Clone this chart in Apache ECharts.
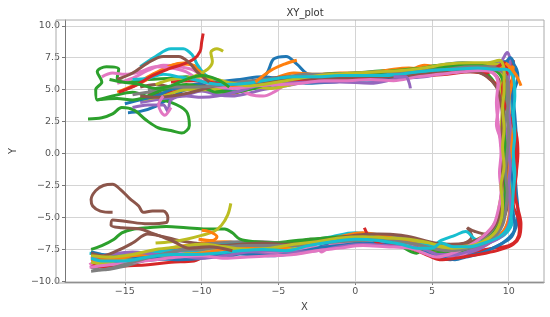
<!DOCTYPE html>
<html>
<head>
<meta charset="utf-8">
<script src="https://cdn.jsdelivr.net/npm/echarts@6/dist/echarts.min.js"></script>
<style>
html, body { margin: 0; padding: 0; background: #fff; }
#main { width: 550px; height: 317px; }
</style>
</head>
<body>
<div id="main"></div>
<script>
// tab10 colour cycle
var palette = ['#1f77b4', '#ff7f0e', '#2ca02c', '#d62728', '#9467bd', '#8c564b', '#e377c2', '#7f7f7f', '#bcbd22', '#17becf'];

var xTicks = [-15, -10, -5, 0, 5, 10];
var yTicks = [-10, -7.5, -5, -2.5, 0, 2.5, 5, 7.5, 10];

// runs
var run00 = [[-14.8,3.2],[-14,3.3],[-13,3.7],[-12,4.4],[-11,5.0],[-10,5.2],[-8.5,5.0],[-7,5.3],[-5.8,6.2],[-5.3,7.4],[-4.5,7.6],[-3.8,7.0],[-3,6.2],[-1.5,6.1],[0,6.0],[2,6.2],[4,6.4],[5.5,6.9],[7,7.1],[8.5,7.0],[9.6,7.2],[10.3,7.0],[10.6,6.0],[10.3,4.5],[10.4,3],[10.5,1],[10.4,-1],[10.5,-3],[10.6,-4.5],[10.4,-6],[9.6,-7],[8.5,-7.6],[7,-8.0],[6.2,-8.3],[5,-7.9],[4,-7.5],[2.5,-7.2],[1,-7.1],[-1,-7.0],[-3,-7.5],[-5,-7.8],[-7,-7.7],[-8.5,-8.1],[-10,-8.0],[-12,-8.2],[-14,-8.4],[-16,-8.5],[-17.2,-8.3]];
var run01 = [[-15.5,4.8],[-14.5,5.3],[-13.5,6.0],[-12.5,6.6],[-11.5,7.0],[-10.5,6.9],[-10,6.3],[-9.7,5.6],[-9,5.0],[-8,4.7],[-7,5.1],[-6,5.5],[-5,6.0],[-4,6.3],[-2.5,6.2],[-1,6.3],[0.5,6.3],[2,6.4],[3.5,6.5],[4.5,6.9],[5.5,6.8],[7,6.9],[8.5,6.8],[9.3,6.5],[9.8,6.0],[10.1,5],[10,3.5],[10.1,2],[9.8,0.5],[9.8,-1],[9.9,-2.5],[9.7,-4],[9.6,-5],[9.3,-6],[8.5,-6.6],[7.5,-7.2],[6.5,-7.5],[5.5,-7.4],[4.5,-7.0],[3,-6.6],[1.5,-6.4],[0,-6.3],[-1.5,-6.6],[-3,-7.0],[-5,-7.2],[-7,-7.1],[-8.5,-6.9],[-10,-7.0],[-12,-7.4],[-14,-7.8],[-16,-8.0],[-17.2,-7.9]];
var run02 = [[-17.4,2.7],[-16.5,2.8],[-15.8,3.1],[-15.2,3.6],[-14.4,3.4],[-13.6,2.6],[-12.8,2.0],[-12,1.8],[-11.3,1.6],[-10.8,2.2],[-11,3.3],[-12,4.0],[-13.2,4.3],[-14.5,4.8],[-15.8,4.5],[-16.8,4.2],[-16.9,5.0],[-16.5,5.6],[-16.8,6.4],[-16.2,6.8],[-15.4,6.6],[-15.5,5.9],[-14.8,5.6],[-13.5,5.8],[-12,5.9],[-11,6.0],[-10,5.6],[-9,5.0],[-8,4.8],[-7,5.0],[-6,5.2],[-5,5.5],[-3.5,5.9],[-2,6.2],[0,6.3],[2,6.5],[4,6.6],[5.5,6.9],[7,6.9],[8.3,6.5],[9.1,5.5],[9.6,4],[9.7,2.5],[9.8,1],[9.7,-1],[9.8,-2.5],[9.6,-4],[9.5,-5],[9.1,-6],[8.2,-7],[7,-7.6],[6,-7.7],[4.5,-7.7],[3,-7.1],[1.5,-6.8],[0,-6.6],[-1.5,-6.6],[-3,-6.7],[-4.5,-6.9],[-6,-7.1],[-7.5,-7.3],[-9,-7.5],[-10.5,-7.6],[-12,-7.7],[-13.5,-7.9],[-15,-8.1],[-16.5,-8.0],[-17.2,-7.7]];
var run03 = [[-13.5,4.6],[-12,4.8],[-10.5,5.2],[-9,5.4],[-7.5,5.5],[-6,5.6],[-4.5,5.7],[-3,5.9],[-1.5,6.0],[0,6.1],[1.5,6.0],[3,6.1],[4.5,6.2],[5.5,6.3],[6.5,6.4],[7.5,6.5],[8.4,6.2],[8.9,5.7],[9.5,5.3],[10.1,5.5],[10.3,6.5],[10.3,7.3],[10.0,6.6],[9.8,5],[9.9,3.5],[10.2,2],[10.4,0.5],[10.5,-1],[10.4,-2.5],[10.3,-4],[10.6,-5],[10.7,-6],[10.5,-6.8],[10,-7.2],[9,-7.4],[8,-7.6],[7,-7.8],[6,-8.0],[5,-7.9],[4,-7.3],[3,-6.9],[1.5,-6.6],[0,-6.5],[-1.5,-6.7],[-3,-7.0],[-4.5,-7.5],[-6,-7.6],[-7.5,-7.4],[-9,-7.5],[-10.5,-8.4],[-12,-8.5],[-13.5,-8.7],[-15,-8.8],[-16.2,-8.9],[-17.2,-8.7]];
var run04 = [[-14,4.0],[-12.5,4.3],[-11,4.6],[-10,4.9],[-9,4.6],[-8,4.5],[-7,4.7],[-6,5.0],[-4.5,5.3],[-3,5.6],[-1.5,5.6],[0,5.8],[1.5,5.7],[3,5.9],[4.5,6.0],[6,6.4],[7.5,6.6],[8.8,6.7],[9.5,7.2],[9.9,7.9],[10.1,7.2],[10.0,6],[9.9,4.5],[10,3],[9.9,1.5],[10,0],[10.1,-1.5],[10,-3],[10.1,-4.5],[9.8,-5.8],[9.2,-6.6],[8.2,-7.4],[7,-7.9],[6,-8.1],[5,-8.0],[4,-7.5],[3,-7.2],[1.5,-7.1],[0,-7.0],[-1.5,-7.2],[-3,-7.5],[-4.5,-7.8],[-6,-7.9],[-7.5,-7.8],[-9,-7.9],[-10.5,-8.1],[-12,-8.2],[-13.5,-8.2],[-15,-8.3],[-16.5,-8.2],[-17.2,-8.0]];
var run05 = [[-14,5.2],[-13,5.4],[-12,5.2],[-11,5.0],[-10,5.3],[-8.5,5.4],[-7,5.4],[-5.5,5.9],[-4,6.0],[-2.5,6.1],[-1,6.0],[0.5,6.1],[2,6.3],[3.5,6.1],[5,6.4],[6.5,6.6],[8,6.7],[8.8,6.5],[9.3,5.9],[9.6,5],[9.7,3.5],[9.6,2],[9.7,0.5],[9.9,-1],[9.8,-2.5],[9.9,-4],[9.7,-5],[9.3,-5.8],[8.5,-6.3],[7.8,-6.1],[7.3,-5.8],[7.6,-6.5],[6.8,-7.2],[5.8,-7.5],[5,-7.3],[4,-7.0],[3,-6.8],[1.5,-6.6],[0,-6.5],[-1.5,-6.6],[-3,-6.8],[-4.5,-7.2],[-6,-7.3],[-7.5,-7.2],[-9,-7.3],[-10.5,-7.4],[-12,-7.6],[-13.5,-7.9],[-15,-8.0],[-16.5,-8.3],[-17.2,-8.1]];
var run06 = [[-15.5,5.5],[-14.5,5.9],[-13.5,6.5],[-12.5,6.9],[-11.5,6.8],[-10.5,6.5],[-9.5,5.6],[-8.5,5.3],[-7.5,5.0],[-6.8,4.6],[-6,4.5],[-5.3,4.8],[-4.5,5.4],[-3,5.7],[-1.5,5.8],[0,5.9],[1.5,5.9],[3,6.0],[4.5,6.1],[6,6.3],[7.5,6.5],[8.5,6.5],[9.2,6.0],[9.4,4.5],[9.3,3.3],[9.2,2.3],[9.5,1],[9.6,-0.5],[9.7,-2],[9.6,-3.5],[9.5,-5],[9.0,-6],[8.2,-6.8],[7.5,-7.5],[6.5,-8.2],[5.5,-8.2],[5,-8.0],[4,-7.4],[3,-7.0],[1.5,-6.9],[0,-6.9],[-1.5,-7.1],[-2.2,-7.7],[-2.5,-7.3],[-3.5,-7.4],[-5,-7.7],[-6.5,-7.6],[-8,-7.5],[-9.5,-7.6],[-11,-7.7],[-12.5,-7.8],[-14,-8.0],[-15.5,-8.2],[-17,-8.5],[-17.3,-8.7]];
var run07 = [[-14.5,4.6],[-13,4.9],[-11.5,5.1],[-10,5.0],[-8.5,5.2],[-7,5.4],[-5.5,5.6],[-4,5.8],[-2.5,6.0],[-1,6.0],[0.5,6.0],[2,6.1],[3.5,6.2],[5,6.4],[6.5,6.6],[8,6.6],[9,6.6],[9.8,6.3],[9.8,5.0],[9.9,3.5],[9.7,2],[9.8,0.5],[9.7,-1],[9.6,-2.5],[9.7,-4],[9.4,-5.3],[8.8,-6.3],[8,-6.8],[7,-7.2],[6,-7.4],[5,-7.2],[4,-6.9],[3,-6.5],[2,-6.4],[1,-6.3],[0,-6.4],[-1.5,-6.6],[-3,-6.9],[-4.5,-7.0],[-6,-6.9],[-7.5,-6.9],[-9,-7.0],[-10.5,-7.2],[-12,-7.8],[-13.5,-8.3],[-15,-8.8],[-16.5,-9.1],[-17.2,-8.9]];
var run08 = [[-14,4.2],[-12.5,4.5],[-11,5.0],[-9.5,5.0],[-8,5.2],[-6.5,5.2],[-5.5,5.1],[-4.5,5.3],[-3,5.7],[-1.5,5.8],[0,6.0],[1.5,6.1],[3,6.2],[4.5,6.4],[6,6.6],[7.5,6.8],[8.5,7.0],[9.3,7.0],[9.6,6.2],[9.5,5],[9.6,3.5],[9.5,2],[9.6,0.5],[9.5,-1],[9.6,-2.5],[9.4,-4],[9.2,-5.2],[8.6,-6.2],[7.8,-6.8],[6.8,-7.2],[5.8,-7.4],[5,-7.1],[4,-6.9],[3,-6.7],[1.5,-6.5],[0,-6.5],[-1.5,-6.8],[-3,-7.1],[-4.5,-7.4],[-6,-7.5],[-7.5,-7.5],[-9,-7.4],[-10.5,-7.7],[-12,-8.0],[-13.5,-8.0],[-15,-8.2],[-16.5,-8.6],[-17.2,-8.5]];
var run09 = [[-14,6.8],[-13,7.6],[-12,8.2],[-11.2,8.2],[-10.6,7.7],[-10.3,7.0],[-9.8,6.2],[-9,5.6],[-8,5.3],[-7,5.4],[-5.5,5.7],[-4,5.9],[-2.5,6.1],[-1,6.2],[0.5,6.2],[2,6.3],[3.5,6.3],[5,6.5],[6.5,6.7],[8,6.8],[9.2,6.7],[10,6.5],[10.3,5.5],[10.2,4],[10.3,2.5],[10.2,1],[10.3,-0.5],[10.2,-2],[10.2,-3.5],[10.3,-5],[10,-6],[9.4,-6.6],[8.5,-6.9],[7.8,-6.7],[7.2,-6.1],[6.5,-6.4],[5.6,-6.8],[5,-7.2],[4,-7.1],[3,-6.9],[1.5,-6.5],[0,-6.2],[-1.5,-6.5],[-3,-6.9],[-4.5,-7.3],[-6,-7.3],[-7.5,-7.1],[-9,-7.2],[-10.5,-7.6],[-12,-7.6],[-13.5,-7.8],[-15,-8.0],[-16.5,-7.9],[-17.3,-7.8]];
var run10 = [[-15,3.9],[-14,4.2],[-13,4.5],[-12,5.0],[-11,5.3],[-10,5.5],[-9,5.6],[-7.5,5.8],[-6,6.0],[-4.5,5.7],[-3,5.5],[-1.5,5.6],[0,5.7],[1.5,5.8],[3,5.9],[4.5,6.1],[5.5,6.6],[7,6.8],[8.5,6.8],[9.5,6.8],[10.1,7.5],[10.4,6.5],[10.2,5],[10.3,3.5],[10.1,2],[10.2,0.5],[10.1,-1],[10.3,-2.5],[10.2,-4],[10.4,-5.5],[10.2,-6.5],[9.3,-7.2],[8.2,-7.8],[7.2,-8.1],[6.5,-8.3],[5.5,-8.1],[4.5,-7.6],[3.5,-7.3],[2,-7.1],[0.5,-7.0],[-1,-7.2],[-2.5,-7.4],[-4,-7.8],[-5.5,-8.0],[-7,-7.9],[-8.5,-7.8],[-10,-8.2],[-11.5,-8.3],[-13,-8.2],[-14.5,-8.1],[-16,-8.0],[-17.2,-7.7]];
var run11 = [[-15,5.0],[-14,5.5],[-13,6.2],[-12,6.9],[-11,7.1],[-10.2,6.5],[-9.5,5.8],[-8.5,5.2],[-7.5,5.2],[-6.5,5.3],[-5,5.5],[-3.5,5.8],[-2,6.0],[-0.5,6.2],[1,6.3],[2.5,6.6],[3.5,6.7],[4.5,6.6],[6,6.7],[7.5,6.8],[9,6.8],[9.8,6.7],[10.3,6.8],[10.2,5.5],[10.0,4],[10.1,2.5],[10.2,1],[10.1,-0.5],[10.0,-2],[10.1,-3.5],[10.0,-5],[9.7,-6],[9,-6.8],[8,-7.3],[7,-7.6],[6,-7.6],[5,-7.5],[4,-7.1],[3,-6.8],[2,-6.5],[0.5,-6.2],[-1,-6.5],[-2.5,-6.8],[-4,-7.2],[-5.5,-7.5],[-7,-7.4],[-8.5,-7.5],[-10,-7.8],[-11.5,-7.9],[-13,-7.9],[-14.5,-8.0],[-16,-8.3],[-17.2,-8.3]];
var run12 = [[-16.8,4.2],[-15.5,4.3],[-14.5,4.2],[-13.5,4.5],[-12.5,5.0],[-11,5.4],[-10,5.2],[-9,4.8],[-8,4.8],[-7,5.0],[-5.5,5.5],[-4,5.8],[-2.5,6.0],[-1,6.1],[0.5,6.2],[2,6.4],[3.5,6.6],[5,6.7],[6.5,6.8],[8,6.9],[9,6.6],[9.6,5.8],[9.7,4.5],[9.6,3],[9.7,1.5],[9.8,0],[9.7,-1.5],[9.8,-3],[9.7,-4.5],[9.4,-5.5],[8.8,-6.5],[7.8,-7.2],[6.5,-7.7],[5.5,-7.6],[4.5,-7.4],[4,-7.8],[3.5,-7.6],[2.5,-6.9],[1,-6.6],[-0.5,-6.5],[-2,-6.6],[-3.5,-6.9],[-5,-7.0],[-6.5,-6.9],[-7.5,-6.7],[-8,-6.2],[-8.5,-5.9],[-9.7,-5.9],[-11,-5.8],[-12.3,-5.7],[-13.5,-5.8],[-14.4,-5.9],[-15.2,-6.2],[-15.7,-6.7],[-16.5,-7.2],[-17.2,-7.5]];
var run13 = [[-12,5.6],[-10.5,5.7],[-9,5.5],[-7.5,5.4],[-6,5.5],[-4.5,5.6],[-3,5.8],[-1.5,5.9],[0,5.9],[1.5,6.0],[3,6.0],[4.5,6.1],[6,6.2],[7.5,6.4],[8.5,6.3],[9.3,6.8],[9.7,7.1],[9.9,6.3],[9.6,5.2],[9.7,4],[10.1,2.8],[10.5,1.5],[10.6,0],[10.5,-1.5],[10.4,-3],[10.6,-4.3],[10.8,-5.5],[10.7,-6.5],[10.3,-7.1],[9.5,-7.5],[8.5,-7.8],[7.5,-8.0],[6.5,-8.2],[5.5,-8.3],[4.8,-8.0],[4,-7.6],[3,-7.2],[2,-7.2],[1,-6.6],[0.6,-5.8]];
var run14 = [[-14.5,3.6],[-13.5,3.8],[-12.5,3.8],[-12.2,3.3],[-12,4.2],[-11,4.5],[-10,4.4],[-9,4.5],[-7.5,4.9],[-6,5.4],[-4.5,5.5],[-3,5.6],[-1,5.6],[1,5.5],[2.5,5.8],[3.4,6.0],[4.5,6.1],[6,6.3],[7.5,6.5],[8.8,6.6],[9.6,6.4],[10.0,5.3],[10.0,3.5],[10.1,2],[10.0,0.5],[10.1,-1],[10.0,-2.5],[10.1,-4],[10.0,-5.5],[9.5,-6.5],[8.5,-7.1],[7.5,-7.6],[6.5,-7.9],[5.5,-7.9],[4.5,-7.5],[3.5,-7.3],[2,-7.2],[0.5,-7.1],[-1,-7.3],[-2.5,-7.6],[-4,-7.7],[-5.5,-7.6],[-7,-7.7],[-8.5,-8.0],[-10,-8.2],[-11.5,-8.0],[-13,-7.9],[-14.5,-7.7],[-16,-7.9],[-17.2,-8.2]];
var run15 = [[-14,4.5],[-13,4.4],[-12,4.5],[-11,4.7],[-10,5.0],[-8.5,5.5],[-7,5.6],[-5.5,5.7],[-4,5.9],[-2.5,5.9],[-1,5.9],[0.5,6.0],[2,6.0],[3.5,6.1],[5,6.3],[6.5,6.4],[7.8,6.4],[8.6,6.0],[9.2,5.2],[9.5,4],[9.6,2.5],[9.5,1],[9.6,-0.5],[9.6,-2],[9.5,-3.5],[9.4,-4.8],[9.0,-5.8],[8.2,-6.6],[7.2,-7.0],[6.2,-7.1],[5.2,-7.0],[4.2,-6.7],[3,-6.4],[1.5,-6.3],[0,-6.4],[-1.5,-6.7],[-3,-7.0],[-4.5,-7.1],[-6,-7.0],[-7.5,-7.1],[-9,-7.2],[-10.5,-7.0],[-11.5,-6.8],[-12.5,-6.5],[-13.5,-6.3],[-14.5,-7.0],[-15.5,-7.6],[-16.5,-8.0],[-17.2,-7.8]];
var run16 = [[-16.5,6.0],[-15.8,6.3],[-15,6.2],[-14,6.4],[-13,6.8],[-12,6.7],[-11,6.4],[-10.2,5.8],[-9.2,5.3],[-8,5.1],[-6.5,5.3],[-5,5.4],[-3.5,5.5],[-2,5.7],[-0.5,5.7],[1,5.8],[2.5,5.7],[4,6.0],[5.5,6.2],[7,6.4],[8.2,6.5],[9.0,6.3],[9.3,5.5],[9.2,4],[9.3,2.5],[9.4,1.5],[9.5,0],[9.4,-1.5],[9.5,-3],[9.3,-4.5],[9.0,-5.6],[8.3,-6.5],[7.3,-7.3],[6.3,-7.8],[5.3,-8.1],[4.5,-7.8],[3.5,-7.4],[2,-7.3],[0.5,-7.2],[-1,-7.4],[-2.5,-7.6],[-4,-7.9],[-5.5,-8.0],[-7,-8.1],[-8.5,-8.2],[-10,-8.0],[-11.5,-8.1],[-13,-8.3],[-14.5,-8.5],[-16,-8.7],[-17.3,-8.9]];
var run17 = [[-13.5,5.0],[-12,5.2],[-10.5,5.2],[-9,5.3],[-7.5,5.6],[-6,5.8],[-4.5,6.0],[-3,6.2],[-1.5,6.2],[0,6.3],[1.5,6.4],[3,6.4],[4.5,6.5],[6,6.6],[7.5,6.8],[8.7,6.8],[9.5,6.5],[9.9,5.8],[10.0,4.5],[9.9,3],[10,1.5],[9.9,0],[9.8,-1.5],[9.9,-3],[9.8,-4.5],[9.6,-5.6],[9,-6.6],[8,-7.2],[7,-7.5],[6,-7.6],[5,-7.4],[4,-7.1],[3,-6.9],[2,-6.7],[0.5,-6.8],[-1,-6.9],[-2.5,-7.0],[-4,-7.2],[-5.5,-7.2],[-7,-7.2],[-8.5,-7.3],[-10,-7.5],[-11.5,-7.6],[-13,-8.0],[-14.5,-8.5],[-16,-9.0],[-17.2,-9.2]];
var run18 = [[-13,5.4],[-12,5.8],[-11,5.9],[-10,6.0],[-9,5.8],[-8,5.5],[-7,5.3],[-6,5.4],[-4.5,5.7],[-3,6.0],[-1.5,6.2],[0,6.3],[1.5,6.4],[3,6.5],[4.5,6.7],[6,7.0],[7.5,7.1],[8.6,7.1],[9.4,7.3],[9.7,6.5],[9.7,5],[9.6,3.5],[9.7,2],[9.6,0.5],[9.7,-1],[9.5,-2.5],[9.6,-4],[9.5,-5.2],[9.1,-6.2],[8.3,-6.9],[7.3,-7.3],[6.3,-7.4],[5.5,-7.2],[4.5,-6.9],[3.5,-6.7],[2,-6.6],[0.5,-6.5],[-1,-6.6],[-2.5,-6.9],[-4,-7.1],[-5.5,-7.4],[-7,-7.5],[-8.5,-7.3],[-10,-7.1],[-11.5,-7.3],[-13,-7.5],[-14.5,-7.9],[-16,-8.1],[-17.2,-8.0]];
var run19 = [[-14.5,5.8],[-13.5,5.9],[-12.5,6.2],[-11.5,6.0],[-10.5,5.8],[-9.5,5.5],[-8.5,5.4],[-7,5.5],[-5.5,5.8],[-4,6.0],[-2.5,6.0],[-1,6.1],[0.5,6.1],[2,6.1],[3.5,6.3],[5,6.5],[6.5,6.6],[8,6.7],[9,6.6],[9.8,6.6],[10.3,6.0],[10.4,4.5],[10.3,3],[10.4,1.5],[10.3,0],[10.4,-1.5],[10.3,-3],[10.2,-4.5],[10.0,-5.7],[9.4,-6.5],[8.4,-7.0],[7.4,-7.3],[6.4,-7.3],[5.6,-7.0],[5,-7.4],[4,-7.4],[3,-7.1],[1.5,-6.8],[0,-6.7],[-1.5,-6.9],[-3,-7.2],[-4.5,-7.6],[-6,-7.5],[-7.5,-7.6],[-9,-7.8],[-10.5,-7.9],[-12,-7.9],[-13.5,-8.1],[-15,-8.4],[-16.5,-8.4],[-17.2,-8.2]];

// short pieces
var redSpike = [[-9.9,9.4],[-10,8.7],[-10.1,8.0],[-10.5,7.4],[-11.2,7.0],[-12.2,6.6],[-13.2,6.1],[-14.2,5.4],[-15.4,4.8]];
var oliveTop = [[-8.6,8.0],[-9.0,8.2],[-9.4,7.9],[-9.3,7.2],[-9.6,6.6],[-10.2,6.2],[-11,5.8]];
var oliveLow = [[-8.1,-3.9],[-8.3,-4.8],[-8.7,-5.6],[-9.2,-6.1],[-10,-6.4],[-11,-6.7],[-12,-6.9],[-13,-7.0]];
var orangeEnd = [[9.8,7.1],[10.2,6.6],[10.5,6.1],[10.7,5.6],[10.8,5.3]];
var orangeBlob = [[-10,-6.0],[-9.5,-6.1],[-9.0,-6.5],[-9.3,-6.8],[-10.2,-6.7]];
var orangeArc = [[-6.5,5.6],[-5.5,6.5],[-4.6,7.0],[-3.8,7.3]];
var purpleStub = [[2.5,6.0],[3.3,6.0],[3.5,5.6],[3.6,5.1]];
var brownLoop = [[-15.8,-4.6],[-16.6,-4.5],[-17.1,-4.1],[-17.2,-3.6],[-16.9,-2.9],[-16.4,-2.5],[-15.8,-2.4],[-15.3,-2.8],[-14.7,-3.5],[-14.1,-4.1],[-13.8,-4.6],[-13.2,-4.5],[-12.5,-4.5],[-12.2,-5.0],[-12.3,-5.4],[-13.5,-5.5],[-15.0,-5.3],[-15.8,-5.2],[-15.9,-5.6],[-15.2,-5.8],[-14.0,-5.9],[-13.3,-6.2],[-12.6,-6.5],[-11.8,-6.9],[-10.8,-7.4],[-9.5,-7.3],[-8,-7.6]];
var brownArc = [[-15.5,5.8],[-14.5,6.3],[-13.5,7.1],[-12.5,7.6],[-11.5,7.6],[-10.8,7.1],[-10.3,6.4],[-9.5,5.6]];
var greenWiggle = [[-16.0,5.8],[-15.2,5.6],[-14,5.4],[-13,5.1],[-12,5.3],[-11,5.8],[-10,6.1],[-9,5.8],[-8.2,5.2]];
var pinkCurl = [[-12.5,4.5],[-12.8,3.8],[-12.4,3.0],[-12.0,3.6]];

var runs = [run00, run01, run02, run03, run04, run05, run06, run07, run08, run09,
            run10, run11, run12, run13, run14, run15, run16, run17, run18, run19];
var pieces = [
    [redSpike, 3], [oliveTop, 8], [oliveLow, 8], [orangeEnd, 1], [orangeBlob, 1],
    [orangeArc, 1], [purpleStub, 4], [brownLoop, 5], [brownArc, 5], [greenWiggle, 2], [pinkCurl, 6]
];

var myChart = echarts.init(document.getElementById('main'));

function minus(v) {
    return String(v).replace('-', '\u2212');
}

var series = [];
runs.forEach(function (d, i) {
    series.push({ type: 'line', data: d, color: palette[i % 10] });
});
pieces.forEach(function (p) {
    series.push({ type: 'line', data: p[0], color: palette[p[1]] });
});
series.forEach(function (s) {
    s.showSymbol = false;
    s.smooth = 0.35;
    s.lineStyle = { width: 3 };
    s.silent = true;
    s.animation = false;
});

var option = {
    animation: false,
    title: {
        text: 'XY_plot',
        left: 300, top: 3, textAlign: 'center',
        textStyle: { fontFamily: 'DejaVu Sans', fontSize: 10, fontWeight: 'normal', color: '#333' }
    },
    grid: { left: 56, right: 6, top: 20, bottom: 34 },
    xAxis: {
        type: 'value', min: -18.9, max: 12.3,
        name: 'X', nameLocation: 'middle', nameGap: 20,
        nameTextStyle: { fontFamily: 'DejaVu Sans', fontSize: 10, color: '#444' },
        axisLine: { onZero: false, lineStyle: { color: '#777' } },
        axisTick: { show: true, length: 3, customValues: xTicks, lineStyle: { color: '#777' } },
        axisLabel: { customValues: xTicks, formatter: minus, fontFamily: 'DejaVu Sans', fontSize: 9.5, color: '#555', margin: 5 },
        splitLine: { show: true, lineStyle: { color: '#d4d4d4' } }
    },
    yAxis: {
        type: 'value', min: -10.05, max: 10.45,
        name: 'Y', nameLocation: 'middle', nameGap: 47, nameRotate: 90,
        nameTextStyle: { fontFamily: 'DejaVu Sans', fontSize: 10, color: '#444' },
        axisLine: { show: true, onZero: false, lineStyle: { color: '#777' } },
        axisTick: { show: true, length: 3, customValues: yTicks, lineStyle: { color: '#777' } },
        axisLabel: {
            customValues: yTicks, fontFamily: 'DejaVu Sans', fontSize: 9.5, color: '#555', margin: 5,
            formatter: function (v) { return minus(v.toFixed(1)); }
        },
        splitLine: { show: true, lineStyle: { color: '#d4d4d4' } }
    },
    graphic: [{
        type: 'rect', silent: true, z: 100,
        shape: { x: 56, y: 20, width: 488, height: 263 },
        style: { fill: 'none', stroke: '#aaa', lineWidth: 1 }
    }],
    series: series
};
myChart.setOption(option);
</script>
</body>
</html>
